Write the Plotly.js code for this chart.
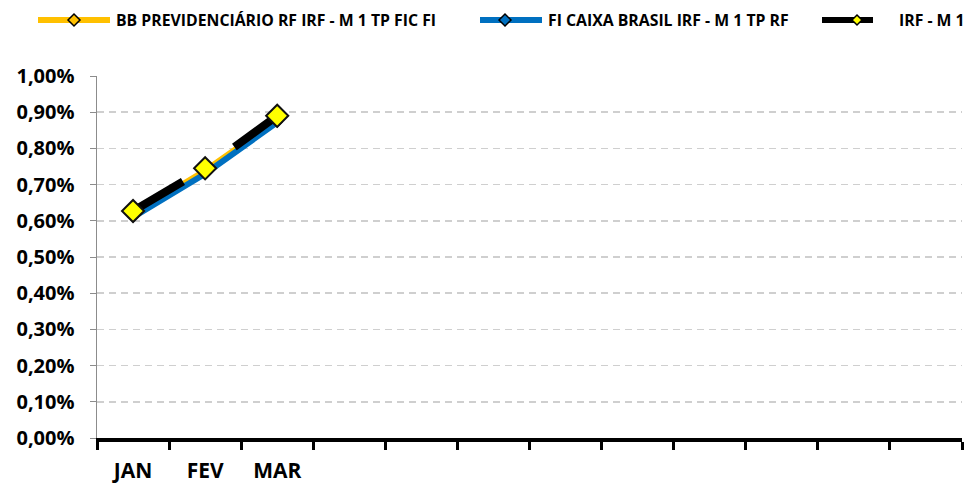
<!DOCTYPE html>
<html>
<head>
<meta charset="utf-8">
<script src="https://cdn.plot.ly/plotly-3.0.1.min.js"></script>
<style>
html,body{margin:0;padding:0;background:#fff;}
#chart{width:969px;height:483px;}
</style>
</head>
<body>
<div id="chart"></div>
<script>
// ---- data ----
const months = ['JAN','FEV','MAR','ABR','MAI','JUN','JUL','AGO','SET','OUT','NOV','DEZ'];
const monthLabels = ['JAN','FEV','MAR','','','','','','','','',''];
const dataMonths = ['JAN','FEV','MAR'];
const seriesNames = ['BB PREVIDENCIÁRIO RF IRF - M 1 TP FIC FI','FI CAIXA BRASIL IRF - M 1 TP RF','IRF - M 1'];
const bbPrev = [0.0062, 0.0074, 0.0088];
const caixa = [0.0061, 0.0073, 0.00872];
const irfM1 = [0.00627, 0.00745, 0.0089];
const yTicks = [0,0.001,0.002,0.003,0.004,0.005,0.006,0.007,0.008,0.009,0.010];

// ---- styles ----
const colors = ['#FFC000','#0070C0','#000000'];
const markerFill = ['#FFC000','#0070C0','#FFFF00'];

const traces = [
  {x: dataMonths, y: bbPrev, name: seriesNames[0], type:'scatter', mode:'lines+markers',
   line:{color:colors[0], width:5}, marker:{symbol:'diamond', size:7, color:markerFill[0], line:{color:'#000', width:1.5}}},
  {x: dataMonths, y: caixa, name: seriesNames[1], type:'scatter', mode:'lines+markers',
   line:{color:colors[1], width:6}, marker:{symbol:'diamond', size:7, color:markerFill[1], line:{color:'#000', width:1.5}}},
  {x: dataMonths, y: irfM1, name: seriesNames[2], type:'scatter', mode:'lines',
   line:{color:colors[2], width:8, dash:'58px,62px'}},
  {x: dataMonths, y: irfM1, name: seriesNames[2], type:'scatter', mode:'markers', showlegend:false,
   marker:{symbol:'diamond', size:17, color:markerFill[2], line:{color:'#111', width:2}}}
];

// custom legend (paper coords)
const L = 97, W = 865, T = 76, H = 362;
const px = v => (v - L) / W;
const py = v => (T + H - v) / H;
const legendItems = [
  {x0:38, x1:110, xm:74, xt:114, mk:6},
  {x0:480, x1:542, xm:505, xt:546, mk:6},
  {x0:822, x1:873, xm:857, xt:897, mk:5}
];
const shapes = [];
const annotations = [];
legendItems.forEach((it, i) => {
  const ly = 20;
  shapes.push({type:'line', xref:'paper', yref:'paper', x0:px(it.x0), x1:px(it.x1), y0:py(ly), y1:py(ly),
    line:{color:colors[i], width:6}});
  const r = it.mk;
  const path = 'M' + px(it.xm - r) + ',' + py(ly) + ' L' + px(it.xm) + ',' + py(ly - r) + ' L' + px(it.xm + r) + ',' + py(ly) + ' L' + px(it.xm) + ',' + py(ly + r) + ' Z';
  shapes.push({type:'path', xref:'paper', yref:'paper', path:path, fillcolor:markerFill[i], line:{color:'#000', width:1.5}});
  annotations.push({xref:'paper', yref:'paper', x:px(it.xt), y:py(ly), xanchor:'left', yanchor:'middle',
    text:seriesNames[i], showarrow:false, font:{family:'Open Sans', size:15.8, color:'#000', weight:'bold'}});
});

const layout = {
  width:969, height:483,
  margin:{l:97, r:7, t:76, b:45},
  paper_bgcolor:'#fff', plot_bgcolor:'#fff',
  separators:',.',
  showlegend:false,
  xaxis:{type:'category', categoryorder:'array', categoryarray:months, range:[-0.5, 11.5],
    tickmode:'array', tickvals:months, ticktext:monthLabels, tickson:'boundaries',
    showline:true, linecolor:'#000', linewidth:4, ticks:'outside', ticklen:8, tickwidth:3, tickcolor:'#000',
    showgrid:false, zeroline:false, automargin:false, ticklabelstandoff:11,
    tickfont:{family:'Open Sans', size:21, color:'#000', weight:'bold'}},
  yaxis:{range:[0, 0.01], tickmode:'array', tickvals:yTicks, tickformat:'.2%',
    showline:true, linecolor:'#8c8c8c', linewidth:1.5, ticks:'outside', ticklen:6, tickwidth:1, tickcolor:'#8c8c8c',
    showgrid:true, gridcolor:'#cfcfcf', gridwidth:1.5, griddash:'7px,5px', zeroline:false, automargin:false,
    ticklabelstandoff:11,
    tickfont:{family:'Open Sans', size:20, color:'#000', weight:'bold'}},
  shapes:shapes,
  annotations:annotations
};

Plotly.newPlot('chart', traces, layout, {displayModeBar:false, staticPlot:true});
</script>
</body>
</html>
